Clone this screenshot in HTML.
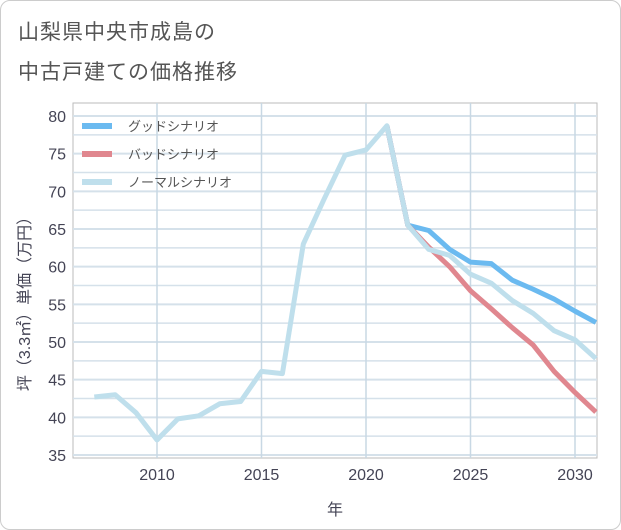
<!DOCTYPE html>
<html><head><meta charset="utf-8"><style>
body{margin:0;background:#fff;font-family:"Liberation Sans","Noto Sans CJK JP",sans-serif;}
#card{position:absolute;left:0;top:0;width:619px;height:528px;border:1px solid #ccc;border-radius:10px;background:#fff;}
.t{position:absolute;left:18px;font-size:21px;color:#555;letter-spacing:1px;}
</style></head><body>
<div id="card"></div>
<div class="t" style="top:16px">山梨県中央市成島の</div>
<div class="t" style="top:56px">中古戸建ての価格推移</div>
<svg id="c" width="621" height="530" style="position:absolute;left:0;top:0"></svg>
<script>
const years=[2007,2008,2009,2010,2011,2012,2013,2014,2015,2016,2017,2018,2019,2020,2021,2022,2023,2024,2025,2026,2027,2028,2029,2030,2031];
const normal=[42.7,43.0,40.6,37.0,39.8,40.2,41.8,42.1,46.1,45.8,63.0,69.0,74.8,75.5,78.7,65.5,62.3,61.5,59.0,57.8,55.5,53.8,51.5,50.3,47.8];
const goodYears=[2021,2022,2023,2024,2025,2026,2027,2028,2029,2030,2031];
const good=[78.7,65.5,64.8,62.3,60.6,60.4,58.2,57.0,55.7,54.1,52.6];
const bad=[78.7,65.5,62.6,60.0,56.8,54.4,51.9,49.6,46.1,43.3,40.7];
const yTicks=[35,40,45,50,55,60,65,70,75,80];
const xTicks=[2010,2015,2020,2025,2030];
const L=73,R=597,T=103,B=458;
const X=y=>157+(y-2010)*(575-157)/20;
const Y=v=>116+(80-v)*(455-116)/45;
const s=document.getElementById('c');const NS='http://www.w3.org/2000/svg';
function el(t,a,txt){const e=document.createElementNS(NS,t);for(const k in a)e.setAttribute(k,a[k]);if(txt!=null)e.textContent=txt;s.appendChild(e);return e;}
let bg=el('rect',{x:L,y:T,width:R-L,height:B-T,fill:'#fff',stroke:'#bbb'});


for(let v=35;v<=80;v+=2.5){const g=el('line',{x1:L,x2:R,y1:Y(v),y2:Y(v),stroke:'#d5e1ea','stroke-width':v%5==0?2:1.5});

}
for(let yr=2007;yr<=2031;yr+=5){}
xTicks.forEach(t=>{const g=el('line',{x1:X(t),x2:X(t),y1:T,y2:B,stroke:'#c8d8e4','stroke-width':1.5});


const lb=el('text',{x:X(t),y:480,'text-anchor':'middle','font-size':16,fill:'#445'},t);

});
yTicks.forEach(t=>{const lb=el('text',{x:66,y:Y(t)+6,'text-anchor':'end','font-size':16,fill:'#445'},t);

});
const xt=el('text',{x:335,y:515,'text-anchor':'middle','font-size':16,fill:'#445'},'年');


const yt=el('text',{x:0,y:0,transform:'translate(30,300) rotate(-90)','text-anchor':'middle','font-size':16,fill:'#445'},'坪（3.3㎡）単価（万円）');


function line(xs,vs,c,n){const p=el('polyline',{points:xs.map((x,i)=>X(x)+','+Y(vs[i])).join(' '),fill:'none',stroke:c,'stroke-width':5,'stroke-linejoin':'round'});

}
line(goodYears,good,'#6bbaf0','good-scenario-line');
line(goodYears,bad,'#e0878f','bad-scenario-line');
line(years,normal,'#bfdfec','normal-scenario-line');
const leg=[['グッドシナリオ','#6bbaf0'],['バッドシナリオ','#e0878f'],['ノーマルシナリオ','#bfdfec']];
leg.forEach((l,i)=>{const y=126+i*28;const r=el('rect',{x:82,y:y-3,width:30,height:6,fill:l[1]});


const t=el('text',{x:128,y:y+5,'font-size':13,fill:'#555'},l[0]);

});
</script></body></html>
